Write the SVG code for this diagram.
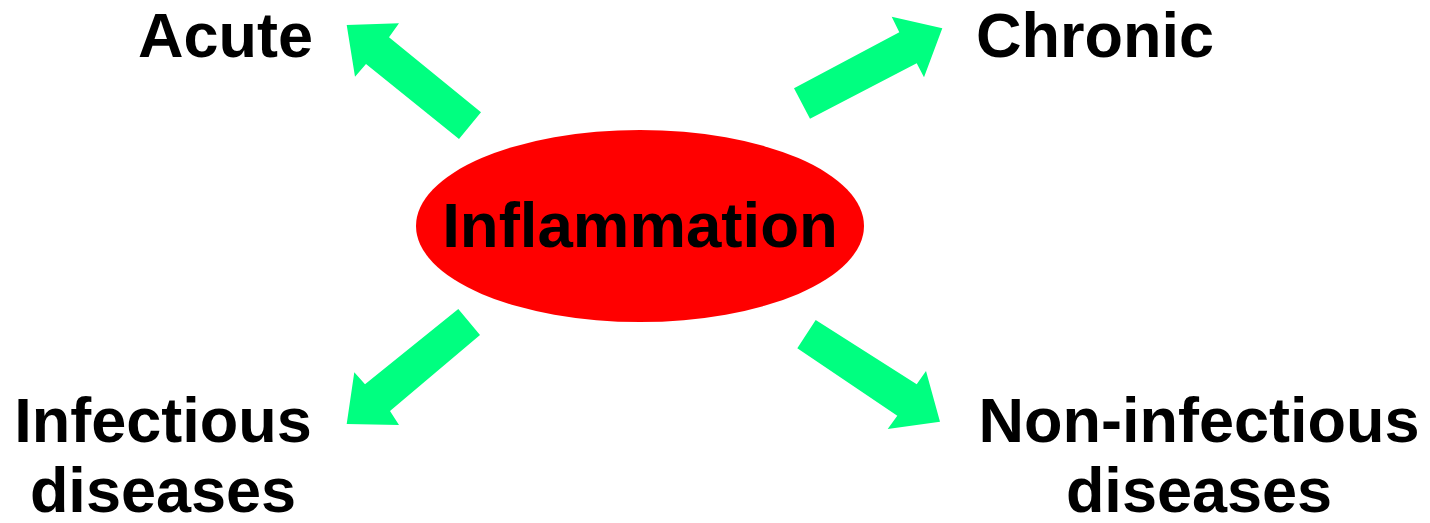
<svg xmlns="http://www.w3.org/2000/svg" width="1430" height="523" viewBox="0 0 1430 523">
<style>
.lbl{font-family:"Liberation Sans",Arial,sans-serif;font-weight:bold;font-size:63px;fill:#000}
.arr{fill:#00FF80;stroke:none}
</style>
<rect width="1430" height="523" fill="#fff"/>
<g id="connectors">
<polygon class="arr" points="346.7,25 399,23.3 389,37.3 481,112.3 459,139 366,64 355,76.7"/>
<polygon class="arr" points="794,88.3 899.3,32.3 891.7,16.7 942.3,28.3 924,77.3 916.7,63.3 810,118.7"/>
<polygon class="arr" points="458.3,309 480,335 390,411 399,425 346.7,424 354.3,372.3 365,384.3"/>
<polygon class="arr" points="815.7,320 916.7,384.3 926,371 940,421.7 887.7,429 897.3,415.7 797.3,348.3"/>
</g>
<g id="inflammation">
<ellipse cx="640" cy="226" rx="224" ry="96" fill="#FF0000"/>
<text class="lbl" x="640" y="247" text-anchor="middle" style="font-size:63.6px">Inflammation</text>
</g>
<g id="acute"><text class="lbl" x="138" y="57">Acute</text></g>
<g id="chronic"><text class="lbl" x="976" y="57">Chronic</text></g>
<g id="infectious"><text class="lbl" text-anchor="middle"><tspan x="163" y="442">Infectious</tspan><tspan x="163" y="512">diseases</tspan></text></g>
<g id="noninfectious"><text class="lbl" text-anchor="middle"><tspan x="1199" y="442">Non-infectious</tspan><tspan x="1199" y="512">diseases</tspan></text></g>
</svg>
